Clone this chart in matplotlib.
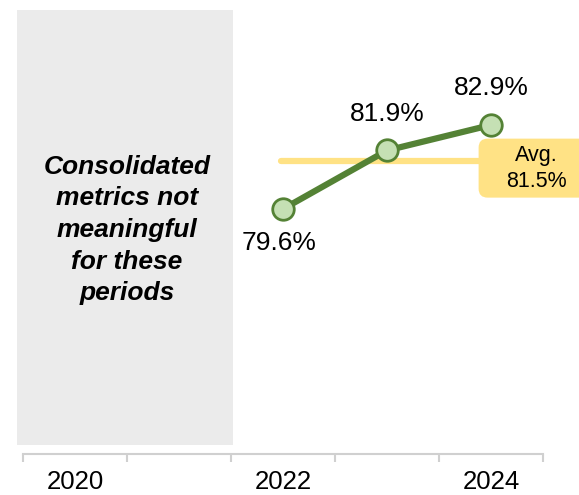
import matplotlib
matplotlib.use("Agg")
import matplotlib.pyplot as plt
from matplotlib.patches import Rectangle, FancyBboxPatch

plt.rcParams['font.family'] = ['Liberation Sans', 'DejaVu Sans']

# data
years = ["2020", "2021", "2022", "2023", "2024"]
shown_labels = ["2020", "", "2022", "", "2024"]
values = [None, None, 79.6, 81.9, 82.9]
avg_value = 81.5
label_offsets = [0, 0, -24.5, 26.5, 26.5]  # points, below/above marker

green = "#548235"
green_fill = "#c5e0b4"
yellow = "#ffe285"
gray_bg = "#ebebeb"

fig = plt.figure(figsize=(5.79, 4.95), dpi=100)
ax = fig.add_axes([23 / 579, 41 / 495, 520 / 579, 444 / 495])
ax.set_xlim(-0.5, len(years) - 0.5)
ax.set_ylim(69.97, 87.42)

# shaded "not meaningful" block over 2020-2021
ax.add_patch(Rectangle((-0.558, 70.33), 2.077, 87.42 - 70.33,
                       facecolor=gray_bg, edgecolor="none", clip_on=False, zorder=0))
ax.text(0.5, 78.77, "Consolidated\nmetrics not\nmeaningful\nfor these\nperiods",
        ha="center", va="center", fontsize=19, fontweight="bold", fontstyle="italic",
        linespacing=1.4, color="black")

# line + markers
xs = [i for i, v in enumerate(values) if v is not None]
ys = [v for v in values if v is not None]
ax.plot(xs, ys, color=green, lw=4.5, zorder=3, solid_capstyle="round")
ax.plot(xs, ys, "o", ms=15.5, mfc=green_fill, mec=green, mew=2, zorder=4)

for x, y in zip(xs, ys):
    ax.annotate(f"{y:.1f}%", (x, y), xytext=(-3 if label_offsets[x] < 0 else 0, label_offsets[x]),
                textcoords="offset points", ha="center", va="center", fontsize=19)

# average line and label box
avg_start, avg_end = 1.98, 3.9
ax.plot([avg_start, avg_end], [avg_value, avg_value], color=yellow, lw=4.5,
        zorder=2, solid_capstyle="round")
px, py = ax.transData.transform((avg_end, avg_value))
box = FancyBboxPatch((px - 2, py - 37), 120, 59, boxstyle="round,pad=0,rounding_size=9",
                     transform=None, facecolor=yellow, edgecolor="none", zorder=5,
                     clip_on=False)
ax.add_patch(box)
ax.annotate(f"Avg.\n{avg_value:.1f}%", (avg_end, avg_value), xytext=(40, -5.5),
            textcoords="offset points", ha="center", va="center", fontsize=15.5,
            multialignment="center", linespacing=1.3, zorder=6)

# axis styling
for s in ["left", "right", "top"]:
    ax.spines[s].set_visible(False)
ax.spines["bottom"].set_color("#d0d0d0")
ax.spines["bottom"].set_linewidth(1.5)
ax.set_yticks([])
ax.set_xticks([i - 0.5 for i in range(len(years) + 1)])
ax.set_xticklabels([])
ax.tick_params(axis="x", which="major", length=6, width=1.5, color="#d0d0d0")
ax.set_xticks(range(len(years)), minor=True)
ax.set_xticklabels(shown_labels, minor=True, fontsize=18.5)
ax.tick_params(axis="x", which="minor", length=0, pad=11.5)

fig.savefig("out.png", dpi=100)
